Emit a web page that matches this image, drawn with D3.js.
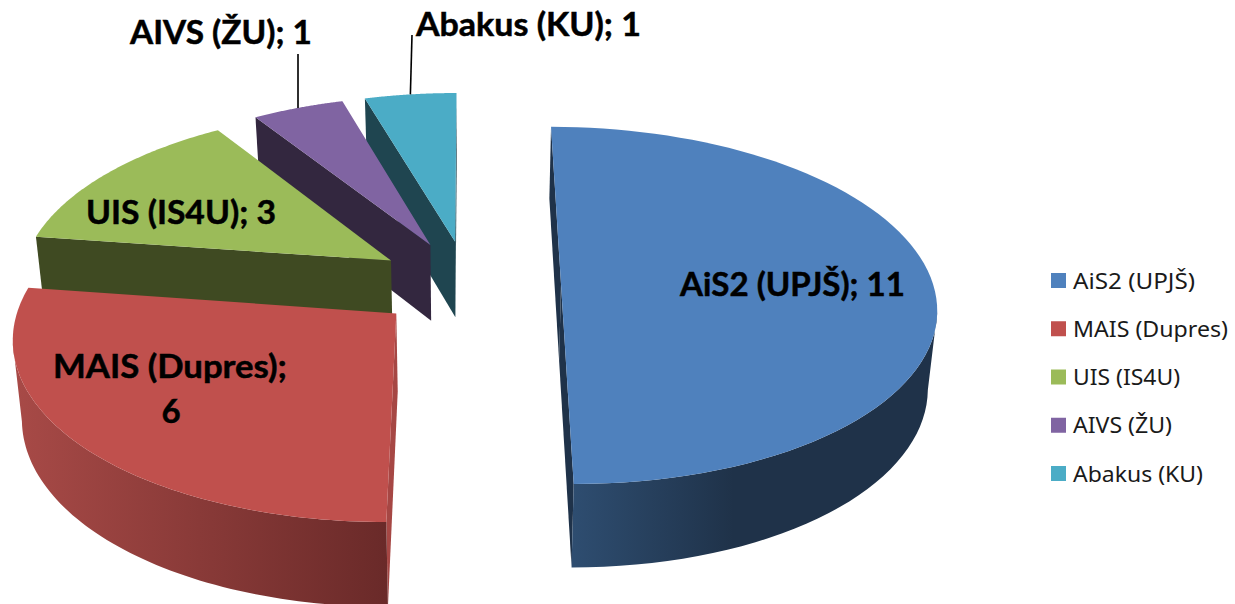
<!DOCTYPE html>
<html><head><meta charset="utf-8">
<script src="https://cdn.jsdelivr.net/npm/d3@7"></script>
<style>html,body{margin:0;background:#fff}svg{display:block}</style></head>
<body><svg id="c" width="1235" height="604"></svg>
<script>
const categories=["AiS2 (UPJŠ)","MAIS (Dupres)","UIS (IS4U)","AIVS (ŽU)","Abakus (KU)"];
const seriesValues=[11,6,3,1,1];
const topColors=["#4F81BD","#C0504D","#9BBB59","#8064A2","#4BACC6"];
const wallColors=["#1F3249","#A64744","#3F4A22","#33273F","#1F4550"];
const rimStart=["#2E4D70","#A84A47","#3F4A22","#33273F","#1F4550"];
const rimEnd=["#1F3249","#6A2A29","#3F4A22","#33273F","#1F4550"];
const labelLines=[["AiS2 (UPJŠ); 11"],["MAIS (Dupres);","6"],["UIS (IS4U); 3"],["AIVS (ŽU); 1"],["Abakus (KU); 1"]];
const labelPos=[[[792.5,296,225]],[[170,378,234],[171,423,0]],[[181,224,190]],[[221,44,182]],[[528.5,36,225]]];

const svg=d3.select("#c");
const vx=468,vy=284,A=372,B=176,K=0.12,D=77,E=0.25;
const SAMPLES=80;
const arcs=d3.pie().sort(null).startAngle(0).endAngle(2*Math.PI)(seriesValues);

function project(slice,theta,r,z){
  const mid=(slice.startAngle+slice.endAngle)/2;
  const X=E*Math.sin(mid)+r*Math.sin(theta);
  const Y=-E*Math.cos(mid)-r*Math.cos(theta);
  const s=1/(1-K*Y);
  return [vx+A*X*s*(1-0.02*z), vy+s*B*Y+Math.pow(s,0.63)*D*z];
}
const line=d3.line();
const defs=svg.append("defs");

function rimPoints(a){
  return d3.range(SAMPLES+1).map(i=>a.startAngle+(a.endAngle-a.startAngle)*i/SAMPLES);
}
const order=[4,3,2,1,0];
order.forEach(i=>{
  const a=arcs[i], g=svg.append("g").attr("class","slice");
  const th=rimPoints(a);
  const apexT=project(a,0,0,0), apexB=project(a,0,0,1);
  const top=th.map(t=>project(a,t,1,0)), bot=th.map(t=>project(a,t,1,1));
  const quad=(p,q,pb,qb)=>line([p,q,qb,pb])+"Z";
  // radial wall from the apex to the rim at the slice start
  if(top[0][0]<apexT[0]) g.append("path").attr("d",quad(apexT,top[0],apexB,bot[0])).attr("fill",wallColors[i]);
  // radial wall from the rim at the slice end back to the apex
  const n=top.length-1;
  if(apexT[0]<top[n][0]) g.append("path").attr("d",quad(top[n],apexT,bot[n],apexB)).attr("fill",wallColors[i]);
  // visible part of the curved rim
  const vis=d3.range(n+1).filter(k=>k<n?top[k+1][0]<top[k][0]:top[k-1][0]>top[k][0]);
  if(vis.length>1){
    const xs=vis.map(k=>top[k][0]);
    const id="rim"+i;
    const gr=defs.append("linearGradient").attr("id",id).attr("gradientUnits","userSpaceOnUse")
      .attr("x1",d3.min(xs)).attr("x2",i===0?d3.min(xs)+160:d3.max(xs)).attr("y1",0).attr("y2",0);
    gr.append("stop").attr("offset",0).attr("stop-color",rimStart[i]);
    gr.append("stop").attr("offset",1).attr("stop-color",rimEnd[i]);
    const t=vis.map(k=>top[k]), b=vis.map(k=>bot[k]).reverse();
    g.append("path").attr("d",line(t.concat(b))+"Z").attr("fill",`url(#${id})`);
  }
  g.append("path").attr("d",line([apexT,...top])+"Z").attr("fill",topColors[i]);
});

// leader lines for the two small slices
[3,4].forEach(i=>{
  const a=arcs[i], mid=(a.startAngle+a.endAngle)/2, q=project(a,mid,1,0);
  const end=i===3?[298,54]:[412,35];
  svg.append("line").attr("x1",q[0]).attr("y1",q[1]).attr("x2",end[0]).attr("y2",end[1])
    .attr("stroke","#000").attr("stroke-width",1.6);
});

labelLines.forEach((ls,i)=>ls.forEach((t,j)=>{
  const [x,y,w]=labelPos[i][j];
  const el=svg.append("text").attr("x",x).attr("y",y).attr("text-anchor","middle")
    .attr("font-family","Lato, sans-serif").attr("font-weight",700).attr("font-size",33)
    .attr("fill","#000").attr("stroke","#000").attr("stroke-width",0.5).text(t);
  if(w) el.attr("textLength",w).attr("lengthAdjust","spacingAndGlyphs");
}));

const legendY=d3.scalePoint().domain(categories).range([280.5,473.5]);
const legend=svg.append("g");
const legendWidths=[122,155,107,99,130];
categories.forEach((c,i)=>{
  const y=legendY(c);
  legend.append("rect").attr("x",1051).attr("y",y-7.5).attr("width",15).attr("height",15).attr("fill",topColors[i]);
  legend.append("text").attr("x",1073).attr("y",y+8).attr("font-family","'Noto Sans', sans-serif")
    .attr("font-size",21.5).attr("fill","#1a1a1a").attr("textLength",legendWidths[i]).attr("lengthAdjust","spacingAndGlyphs").text(c);
});
</script></body></html>
